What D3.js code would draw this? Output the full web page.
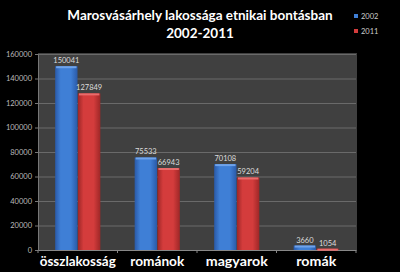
<!DOCTYPE html>
<html><head><meta charset="utf-8">
<script src="https://cdn.jsdelivr.net/npm/d3@7"></script>
<style>html,body{margin:0;padding:0;background:#000;}svg{display:block;}</style>
</head><body><svg id="c" width="400" height="272"></svg>
<script>
const categories = ["összlakosság", "románok", "magyarok", "romák"];
const seriesNames = ["2002", "2011"];
const values2002 = [150041, 75533, 70108, 3660];
const values2011 = [127849, 66943, 59204, 1054];
const yTicks = [0, 20000, 40000, 60000, 80000, 100000, 120000, 140000, 160000];
const titleLines = ["Marosvásárhely lakossága etnikai bontásban", "2002-2011"];

const svg = d3.select("#c");
const W = 400, H = 272;
const m = {l: 38, r: 44, t: 54, b: 22};
const pw = W - m.l - m.r, ph = H - m.t - m.b;
const colors = ["#3f7fd6", "#d43c3c"];
const dark = ["#2a5aa8", "#9e2727"];
const light = ["#6fa3ea", "#ea6b6b"];

const defs = svg.append("defs");
colors.forEach((c, i) => {
  const g = defs.append("linearGradient").attr("id", "g" + i).attr("x1", 0).attr("x2", 1).attr("y1", 0).attr("y2", 0);
  g.append("stop").attr("offset", "0%").attr("stop-color", dark[i]);
  g.append("stop").attr("offset", "25%").attr("stop-color", c);
  g.append("stop").attr("offset", "70%").attr("stop-color", c);
  g.append("stop").attr("offset", "100%").attr("stop-color", dark[i]);
});

svg.append("rect").attr("width", W).attr("height", H).attr("fill", "#000");
svg.append("rect").attr("x", m.l).attr("y", m.t - 1).attr("width", pw + 1).attr("height", ph + 1).attr("fill", "#404040");

const x0 = d3.scaleBand().domain(categories).range([m.l, m.l + pw]).paddingInner(0.42).paddingOuter(0.21);
const x1 = d3.scaleBand().domain(seriesNames).range([0, x0.bandwidth()]).padding(0.02);
const y = d3.scaleLinear().domain([0, 160000]).range([m.t + ph, m.t]);

// gridlines
svg.append("g").selectAll("line").data(yTicks.filter(d => d > 0)).join("line")
  .attr("x1", m.l).attr("x2", m.l + pw).attr("y1", d => y(d) + 0.5).attr("y2", d => y(d) + 0.5)
  .attr("stroke", "#6a6a6a").attr("stroke-width", 1);

// y axis
const ya = svg.append("g").attr("transform", `translate(${m.l},0)`)
  .call(d3.axisLeft(y).tickValues(yTicks).tickSize(3).tickFormat(d3.format("d")));
ya.select(".domain").attr("stroke", "#777");
ya.selectAll(".tick line").attr("stroke", "#777");
ya.selectAll("text").attr("fill", "#bbb").attr("font-family", "Lato, sans-serif").attr("font-size", 7.5);

// x axis
const labelWidths = {"összlakosság": 76, "románok": 54, "magyarok": 62, "romák": 40};
const xa = svg.append("g").attr("transform", `translate(0,${m.t + ph})`)
  .call(d3.axisBottom(x0).tickSize(0).tickPadding(4));
xa.select(".domain").attr("stroke", "#888");
xa.selectAll("text").attr("fill", "#fff").attr("font-family", "Lato, sans-serif").attr("font-weight", "bold").attr("font-size", 14).attr("dy", "0.85em")
  .attr("textLength", d => labelWidths[d]).attr("lengthAdjust", "spacingAndGlyphs");
// category separators
svg.append("g").selectAll("line").data(d3.range(categories.length + 1)).join("line")
  .attr("x1", i => m.l + i * pw / categories.length).attr("x2", i => m.l + i * pw / categories.length)
  .attr("y1", m.t + ph).attr("y2", m.t + ph + 3).attr("stroke", "#888");

const data = categories.map((c, i) => ({c, v: [values2002[i], values2011[i]]}));
const groups = svg.append("g").selectAll("g").data(data).join("g")
  .attr("transform", d => `translate(${x0(d.c)},0)`);
groups.selectAll("rect.bar").data(d => d.v.map((v, i) => ({v, i}))).join("rect").attr("class", "bar")
  .attr("x", d => x1(seriesNames[d.i])).attr("width", x1.bandwidth())
  .attr("y", d => y(d.v)).attr("height", d => y(0) - y(d.v))
  .attr("fill", d => `url(#g${d.i})`);
groups.selectAll("rect.cap").data(d => d.v.map((v, i) => ({v, i}))).join("rect").attr("class", "cap")
  .attr("x", d => x1(seriesNames[d.i]) + 1).attr("width", x1.bandwidth() - 2)
  .attr("y", d => y(d.v)).attr("height", 2)
  .attr("fill", d => light[d.i]);
groups.selectAll("text").data(d => d.v.map((v, i) => ({v, i}))).join("text")
  .attr("x", d => x1(seriesNames[d.i]) + x1.bandwidth() / 2)
  .attr("y", d => y(d.v) - 3)
  .attr("text-anchor", "middle").attr("fill", "#ddd")
  .attr("font-family", "Lato, sans-serif").attr("font-size", 7.5)
  .text(d => d.v);

// title
svg.append("g").selectAll("text").data(titleLines).join("text")
  .attr("x", 200).attr("y", (d, i) => 20 + i * 18)
  .attr("text-anchor", "middle").attr("fill", "#fff")
  .attr("font-family", "Lato, sans-serif").attr("font-weight", "bold").attr("font-size", 13.5)
  .text(d => d);

// legend
const lg = svg.append("g").selectAll("g").data(seriesNames).join("g")
  .attr("transform", (d, i) => `translate(354,${14 + i * 15})`);
lg.append("rect").attr("width", 4).attr("height", 4).attr("fill", (d, i) => colors[i]);
lg.append("text").attr("x", 7).attr("y", 4.5).attr("fill", "#ccc")
  .attr("font-family", "Lato, sans-serif").attr("font-size", 7.5).text(d => d);
</script></body></html>
